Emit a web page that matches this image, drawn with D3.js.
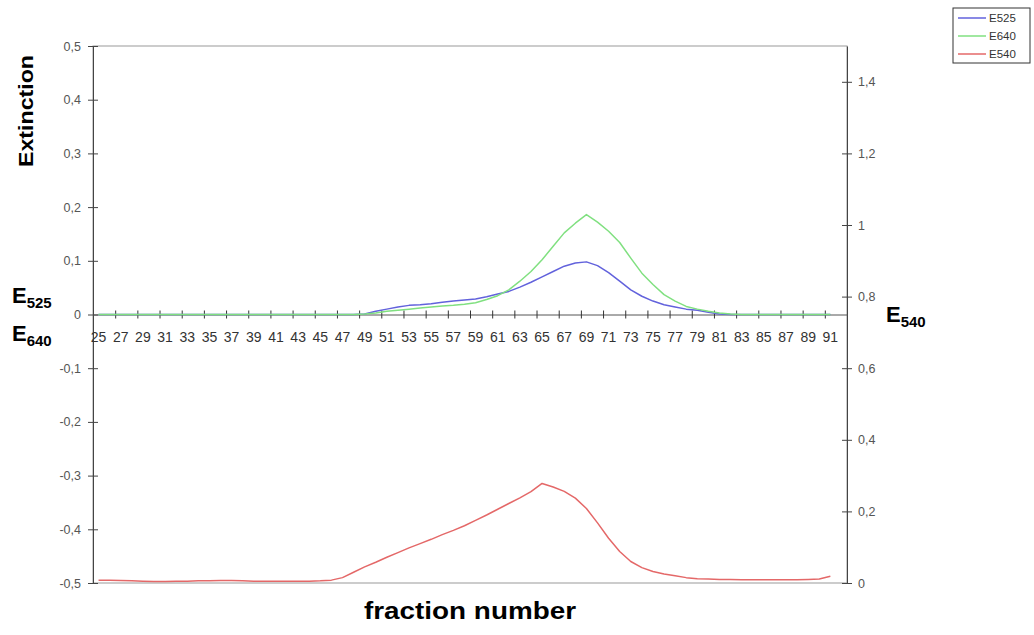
<html>
<head>
<script src="https://d3js.org/d3.v7.min.js"></script>
<style>
  body { margin: 0; background: #fff; }
  text { font-family: "Liberation Sans", Arial, sans-serif; }
</style>
</head>
<body>
<div id="chart"><svg width="1034" height="635"></svg></div>
<script>
// fractions 25..91 (one band more is kept on the axis, as in the original)
var fractions = [25,26,27,28,29,30,31,32,33,34,35,36,37,38,39,40,41,42,43,44,45,46,47,48,49,50,
  51,52,53,54,55,56,57,58,59,60,61,62,63,64,65,66,67,68,69,70,71,72,73,74,75,76,77,78,79,80,
  81,82,83,84,85,86,87,88,89,90,91];
var axisBands = fractions.concat([92]);

var e525 = [0,0,0,0,0,0,0,0,0,0,0,0,0,0,0,0,0,0,0,0,0,0,0,0,0.001,0.006,
  0.010,0.014,0.017,0.018,0.020,0.023,0.025,0.027,0.029,0.033,0.038,0.043,0.051,0.060,0.070,0.080,0.090,0.096,0.098,0.091,0.078,0.062,0.046,0.034,0.025,0.018,0.014,0.010,0.008,0.004,
  0.001,0,0,0,0,0,0,0,0,0,0];
var e640 = [0,0,0,0,0,0,0,0,0,0,0,0,0,0,0,0,0,0,0,0,0,0,0,0,0.001,0.003,
  0.006,0.008,0.010,0.012,0.014,0.016,0.017,0.019,0.022,0.028,0.035,0.046,0.062,0.080,0.102,0.127,0.152,0.170,0.186,0.172,0.155,0.134,0.105,0.077,0.056,0.037,0.025,0.015,0.010,0.006,
  0.003,0.001,0,0,0,0,0,0,0,0,0];
var e540 = [0.008,0.008,0.007,0.006,0.005,0.004,0.004,0.005,0.005,0.006,0.006,0.007,0.007,0.006,0.005,0.005,0.005,0.005,0.005,0.005,0.006,0.008,0.015,0.030,0.045,0.058,
  0.072,0.085,0.098,0.110,0.122,0.135,0.147,0.160,0.175,0.190,0.206,0.222,0.238,0.255,0.278,0.268,0.256,0.237,0.208,0.168,0.125,0.088,0.060,0.043,0.032,0.025,0.020,0.015,0.012,0.011,
  0.010,0.010,0.009,0.009,0.009,0.009,0.009,0.009,0.010,0.011,0.019];

var xLabels = [25,27,29,31,33,35,37,39,41,43,45,47,49,51,53,55,57,59,61,63,65,67,69,71,73,75,77,79,81,83,85,87,89,91];
var leftTicks = [-0.5,-0.4,-0.3,-0.2,-0.1,0,0.1,0.2,0.3,0.4,0.5];
var rightTicks = [0,0.2,0.4,0.6,0.8,1,1.2,1.4];

var series = [
  { name: "E525", values: e525, color: "#6262dc", axis: "left" },
  { name: "E640", values: e640, color: "#80e080", axis: "left" },
  { name: "E540", values: e540, color: "#e46868", axis: "right" }
];

var svg = d3.select('#chart svg');
var L = 93, R = 847, T = 46, B = 583;

var loc = d3.formatLocale({ decimal: ",", thousands: ".", grouping: [3], currency: ["", ""], minus: "-" });
var fmt = loc.format("~g");

var x = d3.scaleBand().domain(axisBands).range([L, R]);
var xEdge = d3.scaleLinear().domain([24.5, 92.5]).range([L, R]);
var yL = d3.scaleLinear().domain([-0.5, 0.5]).range([B, T]);
var yR = d3.scaleLinear().domain([0, 1.5]).range([B, T]);

// plot frame
svg.append('rect')
  .attr('x', L).attr('y', T).attr('width', R - L).attr('height', B - T)
  .attr('fill', 'none').attr('stroke', '#999').attr('stroke-width', 1);

// left axis
var gl = svg.append('g').attr('transform', 'translate(' + L + ',0)')
  .call(d3.axisLeft(yL).tickValues(leftTicks).tickFormat(fmt).tickSizeInner(5).tickSizeOuter(0).tickPadding(7));
gl.selectAll('.tick line').attr('x1', 5);

// right axis
var gr = svg.append('g').attr('transform', 'translate(' + R + ',0)')
  .call(d3.axisRight(yR).tickValues(rightTicks).tickFormat(fmt).tickSizeInner(5).tickSizeOuter(0).tickPadding(6));
gr.selectAll('.tick line').attr('x1', -5);

[gl, gr].forEach(function(g) {
  g.select('.domain').attr('stroke', '#444');
  g.selectAll('.tick line').attr('stroke', '#444');
  g.selectAll('.tick text').attr('fill', '#555').style('font-size', '12.5px');
});

// x axis on the zero line: labels at band centres, ticks on band edges
var y0 = yL(0);
var gx = svg.append('g').attr('transform', 'translate(0,' + y0 + ')')
  .call(d3.axisBottom(x).tickValues(xLabels).tickSize(0).tickPadding(18));
gx.select('.domain').remove();
gx.selectAll('.tick text').attr('fill', '#333').style('font-size', '14px');

var gxt = svg.append('g').attr('transform', 'translate(0,' + y0 + ')')
  .call(d3.axisBottom(xEdge).tickValues(xLabels.slice(1).map(function(f) { return f - 0.5; }))
    .tickSizeInner(4).tickSizeOuter(0).tickFormat(''));
gxt.select('.domain').attr('stroke', '#555');
gxt.selectAll('.tick line').attr('y1', -4).attr('stroke', '#333');

// lines
series.forEach(function(s) {
  var ys = s.axis === 'left' ? yL : yR;
  var line = d3.line()
    .x(function(d, i) { return x(fractions[i]) + x.bandwidth() / 2; })
    .y(function(d) { return ys(d); });
  svg.append('path')
    .datum(s.values)
    .attr('d', line)
    .attr('fill', 'none')
    .attr('stroke', s.color)
    .attr('stroke-width', 1.5)
    .attr('stroke-linejoin', 'round');
});

// titles
svg.append('text')
  .attr('transform', 'translate(33,111) rotate(-90)')
  .attr('text-anchor', 'middle')
  .attr('textLength', 112).attr('lengthAdjust', 'spacingAndGlyphs')
  .style('font-size', '21px').style('font-weight', 'bold')
  .text('Extinction');

svg.append('text')
  .attr('x', 470).attr('y', 619)
  .attr('text-anchor', 'middle')
  .attr('textLength', 212).attr('lengthAdjust', 'spacingAndGlyphs')
  .style('font-size', '23px').style('font-weight', 'bold')
  .text('fraction number');

function subLabel(xp, yp, main, sub) {
  var t = svg.append('text').attr('x', xp).attr('y', yp).style('font-weight', 'bold');
  t.append('tspan').style('font-size', '22px').text(main);
  t.append('tspan').attr('dy', 5).style('font-size', '15px').text(sub);
}
subLabel(12, 303, 'E', '525');
subLabel(12, 341, 'E', '640');
subLabel(886, 322, 'E', '540');

// legend
var lg = svg.append('g').attr('transform', 'translate(953,8)');
lg.append('rect').attr('width', 77).attr('height', 55)
  .attr('fill', '#fff').attr('stroke', '#333').attr('stroke-width', 1);
series.forEach(function(s, i) {
  var yy = 10 + i * 18;
  lg.append('line').attr('x1', 5).attr('x2', 33).attr('y1', yy).attr('y2', yy)
    .attr('stroke', s.color).attr('stroke-width', 1.5);
  lg.append('text').attr('x', 36).attr('y', yy + 4)
    .style('font-size', '11.5px').attr('fill', '#333').text(s.name);
});
</script>
</body>
</html>
